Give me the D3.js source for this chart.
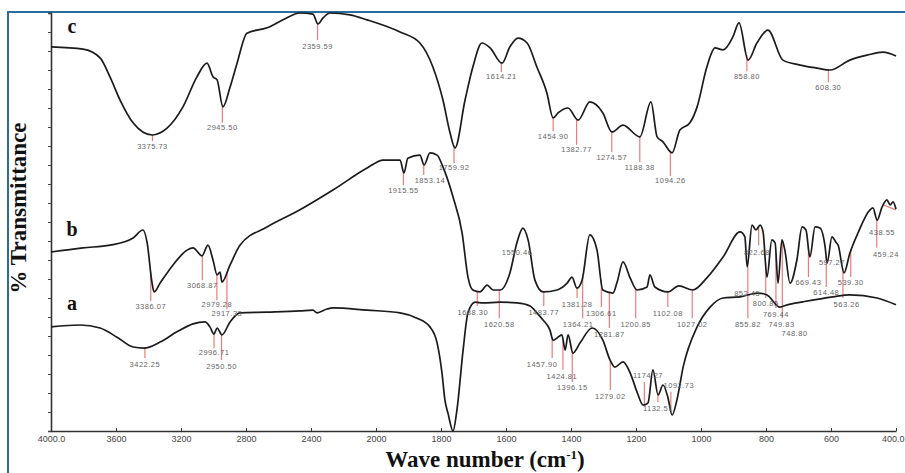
<!DOCTYPE html>
<html><head><meta charset="utf-8">
<script src="https://cdn.jsdelivr.net/npm/d3@7"></script>
<style>body{margin:0;background:#fff}svg{display:block}</style>
</head><body><svg id="chart" width="905" height="473"></svg>
<script>
// ---------- data ----------
const seriesLabels = ["a", "b", "c"];
const xTicks = [4000, 3600, 3200, 2800, 2400, 2000, 1800, 1600, 1400, 1200, 1000, 800, 600, 400];

// [wavenumber cm-1, transmittance (a.u.)]
const specC = [[4000,101.1],[3803,100.5],[3698,98.2],[3637,93.2],[3575,87.1],[3495,81.1],[3378,77.9],[3286,79.7],[3188,85.3],[3102,93.2],[3040,96.8],[3003,93.2],[2978,92.4],[2942,85.3],[2898,90.5],[2855,96.8],[2794,104.7],[2671,106.1],[2572,108.2],[2468,110],[2388,109.7],[2357,107.1],[2326,108.7],[2283,110],[2160,109.5],[2055,108.2],[1926,105],[1865,102.1],[1825,95.8],[1794,87.1],[1772,78.4],[1757,74.5],[1726,87.1],[1702,95.8],[1674,102.1],[1649,100.8],[1612,96.8],[1588,101.1],[1563,103.4],[1535,102.1],[1505,95.8],[1474,88.9],[1455,82.4],[1440,83.7],[1409,85],[1378,81.8],[1342,86.6],[1302,83.7],[1274,78.7],[1240,80.5],[1188,77.4],[1154,86.6],[1135,77.4],[1117,76.1],[1089,73.2],[1065,79.2],[1034,81.1],[1012,85.3],[982,95.8],[957,100.8],[932,100.3],[902,103.7],[883,107.4],[855,97.6],[828,102.1],[794,105.5],[748,97.6],[695,96.3],[643,95.5],[603,95],[542,97.6],[489,98.9],[440,99.7],[400,98.7]];

const specB = [[4000,47.1],[3803,48.2],[3637,48.9],[3495,50.8],[3434,52.9],[3409,49.7],[3378,38.9],[3366,36.6],[3329,38.9],[3249,43.7],[3163,47.6],[3126,48.2],[3071,46.1],[3034,48.9],[3003,45],[2978,41.1],[2960,41.8],[2948,39.2],[2898,43.7],[2837,48.9],[2671,53.7],[2468,58.2],[2265,63.4],[2055,69.2],[1978,71.3],[1926,71.3],[1914,67.9],[1902,71.8],[1865,72.6],[1852,70],[1834,73.2],[1812,72.6],[1794,69.5],[1763,61.6],[1735,52.1],[1717,40.5],[1702,37.1],[1680,36.6],[1658,38.4],[1640,37.1],[1618,37.1],[1588,41.6],[1566,49.7],[1548,53.4],[1532,50.3],[1511,39.7],[1486,36.6],[1443,37.1],[1412,38.9],[1397,40.5],[1382,37.6],[1366,39.7],[1342,51.6],[1320,47.6],[1302,37.1],[1271,36.3],[1258,39.2],[1240,44.5],[1218,40.3],[1197,37.1],[1166,37.9],[1157,41.1],[1142,37.9],[1102,36.6],[1068,38.2],[1025,37.1],[982,40.3],[932,45.8],[880,52.4],[865,51.1],[858,43.2],[843,54.2],[831,52.9],[818,54.2],[809,52.4],[797,40.5],[782,50.3],[772,49.5],[763,38.9],[751,50.3],[742,47.6],[726,38.9],[705,45],[689,53.7],[677,52.9],[665,45.8],[649,53.7],[634,53.4],[618,48.4],[612,44.2],[597,51.1],[585,49.7],[578,48.9],[560,41.6],[542,46.8],[517,52.1],[480,58.2],[471,58.7],[458,55.5],[443,58.9],[428,60.8],[418,59.5],[409,60.3],[400,58.4]];

const specA = [[4000,27.4],[3822,27.9],[3698,27.1],[3594,24.7],[3495,22.1],[3428,21.8],[3329,23.4],[3225,26.1],[3126,28.2],[3052,28.7],[3022,27.4],[2997,25.5],[2978,27.1],[2948,25.3],[2898,28.7],[2837,31.1],[2671,31.3],[2468,31.6],[2388,31.8],[2363,31.1],[2302,32.1],[2265,32.4],[2055,31.8],[1926,31.1],[1874,29.7],[1834,27.4],[1812,23.2],[1797,15.3],[1788,8.2],[1778,4.5],[1763,0],[1751,5.5],[1732,21.3],[1717,31.1],[1695,33.9],[1671,33.7],[1618,33.9],[1566,33.7],[1526,32.9],[1505,31.1],[1486,29.2],[1465,26.6],[1455,23.9],[1443,24.5],[1428,25.3],[1418,21.3],[1409,25.3],[1394,20.5],[1372,23.2],[1335,27.1],[1302,23.9],[1280,18.7],[1265,16.8],[1240,18.2],[1218,15.3],[1197,10.3],[1178,6.8],[1163,7.4],[1148,16.1],[1132,9.5],[1117,12.1],[1102,8.9],[1089,4.2],[1074,8.2],[1055,16.8],[1012,27.4],[972,32.6],[932,35],[880,35.3],[825,36.3],[797,35.8],[757,32.6],[735,33.2],[686,34],[594,35.3],[542,35.8],[458,35],[400,33.2]];

// peak annotations: [label, marker end (a.u.), label level (a.u.), label wavenumber (optional), marker end wavenumber (optional)]
const peaksC = [["3375.73",76.3,74.7],["2945.50",81.1,79.7],["2359.59",102.9,101.1],["1759.92",70.5,69.2],["1614.21",94.5,93.2],["1454.90",78.9,77.4],["1382.77",75.3,73.9],["1274.57",73.4,71.8],["1188.38",70.8,69.2],["1094.26",67.1,65.8],["858.80",94.7,93.2],["608.30",91.8,90.3]];

const peaksB = [["3386.07",34.2,32.6],["3068.87",39.7,38.2],["2979.28",34.5,33.2],["2917.33",32.1,30.8],["1915.55",64.7,63.2],["1853.14",67.4,65.8,1834],["1550.46",null,46.8,1566],["1688.30",32.9,31.1,1702],["1620.58",29.7,27.9],["1483.77",32.9,31.1],["1381.28",35,33.2],["1364.21",29.7,27.9,1378],["1306.61",32.6,30.8],["1281.87",27.1,25.3],["1200.85",29.7,27.9],["1102.08",32.6,30.8],["1027.02",29.7,27.9],["855.82",29.7,27.9],["822.68",48.9,46.8,828],["800.85",35,33.4],["769.44",32.4,30.5],["749.83",29.7,27.9,752],["748.80",null,25.6,712],["669.43",40.5,38.9],["614.48",37.9,36.3],["597.27",null,44.2],["563.26",35,33.2,552],["539.30",40.5,38.9],["459.24",48.2,46.3,431],["438.55",58.2,52.1,443,400]];

const peaksA = [["3422.25",19.2,17.4],["2996.71",21.8,20.5],["2950.50",18.7,16.8],["1457.90",19.2,17.4,1489],["1424.81",16.1,14.2,1428],["1396.15",12.9,11.3],["1279.02",10.8,8.9],["1174.27",12.9,14.5,1163],["1132.51",7.6,5.8],["1092.73",10.3,11.8,1068],["852.45",null,36.1,858]];

// ---------- drawing ----------
const svg = d3.select("#chart");
const x = d3.scaleLinear().domain([4000, 2000, 400]).range([51, 376, 896]);
const y = d3.scaleLinear().domain([0, 110]).range([431, 13]);

svg.append("rect").attr("x", 8).attr("y", 12).attr("width", 910).attr("height", 480)
  .attr("fill", "none").attr("stroke", "#2b6c9c").attr("stroke-width", 2);

const xAxis = d3.axisBottom(x).tickValues(xTicks).tickSizeInner(-3).tickSizeOuter(0)
  .tickFormat(d => (d === 4000 || d === 400) ? d.toFixed(1) : String(d));
const gx = svg.append("g").attr("transform", "translate(0,431)").call(xAxis);
gx.select(".domain").attr("stroke", "#333").attr("stroke-width", 1.6);
gx.selectAll(".tick line").attr("stroke", "#333");
gx.selectAll(".tick text").attr("dy", "0.9em").attr("fill", "#444")
  .style("font-family", "'Liberation Sans', sans-serif").style("font-size", "9px")
  .filter(d => d === 400).attr("text-anchor", "end").attr("dx", 8);

const yAxis = d3.axisLeft(y).tickValues(d3.range(0, 111, 5)).tickSize(3).tickFormat("");
const gy = svg.append("g").attr("transform", "translate(51,0)").call(yAxis);
gy.select(".domain").attr("stroke", "#333").attr("stroke-width", 1.6);
gy.selectAll(".tick line").attr("stroke", "#444");

function valueAt(spec, wn) {
  for (let i = 0; i < spec.length - 1; i++) {
    const [w0, v0] = spec[i], [w1, v1] = spec[i + 1];
    if (wn <= w0 && wn >= w1) return v0 + (v1 - v0) * (w0 - wn) / (w0 - w1);
  }
  return spec[spec.length - 1][1];
}

const series = [{name: "a", spec: specA, peaks: peaksA}, {name: "b", spec: specB, peaks: peaksB}, {name: "c", spec: specC, peaks: peaksC}];

const gMark = svg.append("g");
series.forEach(s => {
  s.peaks.forEach(p => {
    const wn = parseFloat(p[0]);
    if (p[1] === null) return;
    const endWn = p[4] !== undefined ? p[4] : wn;
    gMark.append("line")
      .attr("x1", x(wn)).attr("y1", y(valueAt(s.spec, wn)))
      .attr("x2", x(endWn)).attr("y2", y(p[1]))
      .attr("stroke", "#ec7b7b").attr("stroke-width", 1.2);
  });
});

const line = d3.line().x(d => x(d[0])).y(d => y(d[1])).curve(d3.curveMonotoneX);
svg.append("g").selectAll("path").data(series).join("path")
  .attr("d", s => line(s.spec)).attr("fill", "none")
  .attr("stroke", "#1b1b1b").attr("stroke-width", 1.7).attr("stroke-linejoin", "round");

const gLab = svg.append("g").style("font-family", "'Liberation Sans', sans-serif")
  .style("font-size", "7.5px").style("letter-spacing", "0.5px");
series.forEach(s => {
  s.peaks.forEach(p => {
    const wn = p[3] !== undefined ? p[3] : parseFloat(p[0]);
    gLab.append("text").attr("x", x(wn)).attr("y", y(p[2]))
      .attr("text-anchor", "middle").attr("dominant-baseline", "middle")
      .attr("fill", "#666").text(p[0]);
  });
});

// series letters
const letterLevel = {a: 31.8, b: 51.3, c: 104.7};
svg.append("g").selectAll("text").data(seriesLabels).join("text")
  .attr("x", 72).attr("y", d => y(letterLevel[d]))
  .attr("text-anchor", "middle")
  .style("font-family", "'Liberation Serif', serif").style("font-weight", "bold").style("font-size", "20px")
  .attr("fill", "#111").text(d => d);

// axis titles
svg.append("text").attr("transform", "translate(26,208) rotate(-90)").attr("text-anchor", "middle")
  .style("font-family", "'Liberation Serif', serif").style("font-weight", "bold").style("font-size", "23px")
  .attr("fill", "#111").text("% Transmittance");

const xt = svg.append("text").attr("x", 485).attr("y", 467).attr("text-anchor", "middle")
  .style("font-family", "'Liberation Serif', serif").style("font-weight", "bold").style("font-size", "23px")
  .attr("fill", "#111");
xt.append("tspan").text("Wave number (cm");
xt.append("tspan").attr("dy", -8).style("font-size", "13px").text("-1");
xt.append("tspan").attr("dy", 8).text(")");
</script></body></html>
